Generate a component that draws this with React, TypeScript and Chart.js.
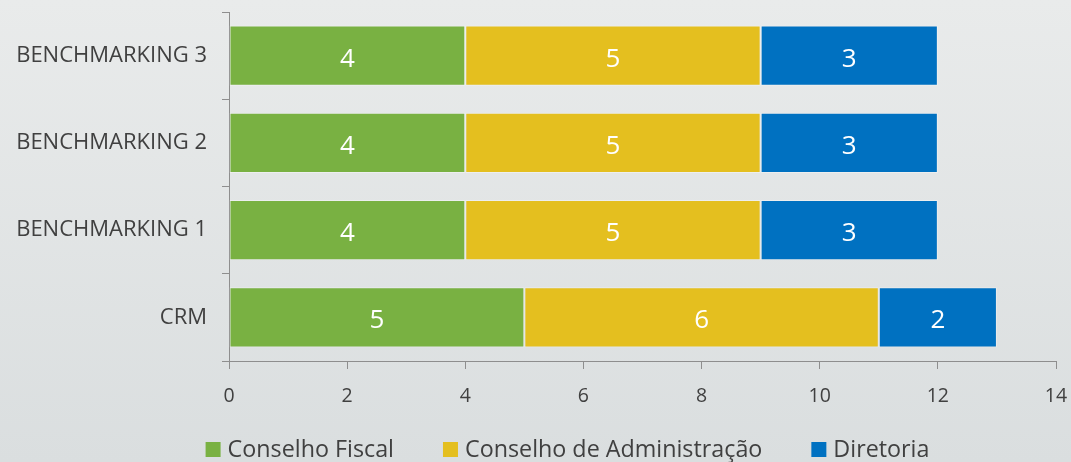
import React, { useEffect, useRef } from "react";
import { Chart, registerables } from "chart.js";

Chart.register(...registerables);

const categories = ["BENCHMARKING 3", "BENCHMARKING 2", "BENCHMARKING 1", "CRM"];
const seriesNames = ["Conselho Fiscal", "Conselho de Administração", "Diretoria"];
const conselhoFiscal = [4, 4, 4, 5];
const conselhoAdministracao = [5, 5, 5, 6];
const diretoria = [3, 3, 3, 2];
const xMin = 0;
const xMax = 14;
const xStep = 2;

const seriesColors = ["#79b142", "#e4bf1f", "#0071c1"];
const FONT = "'Open Sans', 'Noto Sans', sans-serif";
const TEXT = "#404040";
const AXIS = "#8e8e8e";

const valueLabels = {
  id: "valueLabels",
  afterDatasetsDraw(chart: any) {
    const ctx = chart.ctx;
    ctx.save();
    ctx.font = `26px ${FONT}`;
    ctx.fillStyle = "#ffffff";
    ctx.textAlign = "center";
    ctx.textBaseline = "alphabetic";
    chart.data.datasets.forEach((ds: any, i: number) => {
      const meta = chart.getDatasetMeta(i);
      meta.data.forEach((el: any, j: number) => {
        const v = ds.data[j];
        const cx = (el.x + el.base) / 2;
        ctx.fillText(String(v), cx, el.y + 11);
      });
    });
    ctx.restore();
  },
};

const customLegend = {
  id: "customLegend",
  afterDraw(chart: any) {
    const ctx = chart.ctx;
    ctx.save();
    ctx.font = `23.3px ${FONT}`;
    ctx.textBaseline = "alphabetic";
    ctx.textAlign = "left";
    const box = 15;
    const gapText = 7;
    const gapItem = 49;
    const items = chart.data.datasets.map((ds: any) => ({
      label: ds.label,
      color: ds.backgroundColor,
      w: ctx.measureText(ds.label).width,
    }));
    let total = 0;
    items.forEach((it: any, i: number) => {
      total += box + gapText + it.w + (i < items.length - 1 ? gapItem : 0);
    });
    let x = 567.5 - total / 2;
    const baseline = 457;
    items.forEach((it: any) => {
      ctx.fillStyle = it.color;
      ctx.fillRect(x, baseline - box, box, box);
      ctx.fillStyle = TEXT;
      ctx.fillText(it.label, x + box + gapText, baseline);
      x += box + gapText + it.w + gapItem;
    });
    ctx.restore();
  },
};

export default function App() {
  const ref = useRef<HTMLCanvasElement | null>(null);
  useEffect(() => {
    if (!ref.current) return;
    const seriesValues = [conselhoFiscal, conselhoAdministracao, diretoria];
    const chart = new Chart(ref.current, {
      type: "bar",
      data: {
        labels: categories,
        datasets: seriesNames.map((name, i) => ({
          label: name,
          data: seriesValues[i],
          backgroundColor: seriesColors[i],
          borderColor: "rgba(255,255,255,0.35)",
          borderWidth: 1,
          borderSkipped: false,
          barPercentage: 0.69,
          categoryPercentage: 1,
        })),
      },
      options: {
        indexAxis: "y",
        responsive: false,
        animation: false,
        layout: { padding: { top: 12, right: 15, left: 0, bottom: 0 } },
        plugins: {
          legend: { display: false },
          tooltip: { enabled: false },
        },
        scales: {
          x: {
            type: "linear",
            stacked: true,
            min: xMin,
            max: xMax,
            ticks: {
              stepSize: xStep,
              font: { family: FONT, size: 19.5 },
              color: TEXT,
              padding: 16,
            },
            grid: {
              drawOnChartArea: false,
              drawTicks: true,
              tickLength: 8,
              color: AXIS,
            },
            border: { color: AXIS, width: 1 },
            afterFit(s: any) {
              s.height = 101;
              s.paddingLeft = 0;
              s.paddingRight = 0;
            },
          },
          y: {
            type: "category",
            stacked: true,
            ticks: {
              font: { family: FONT, size: 22 },
              color: TEXT,
              padding: 15,
            },
            grid: {
              drawOnChartArea: false,
              drawTicks: true,
              tickLength: 7,
              offset: true,
              color: AXIS,
            },
            border: { color: AXIS, width: 1 },
            afterFit(s: any) {
              s.width = 229;
              s.paddingTop = 0;
              s.paddingBottom = 0;
            },
          },
        },
      } as any,
      plugins: [valueLabels, customLegend],
    });
    return () => chart.destroy();
  }, []);

  return (
    <div
      style={{
        position: "absolute",
        left: 0,
        top: 0,
        width: 1071,
        height: 462,
        background: "linear-gradient(to bottom, #e9ebeb 0%, #dadedf 100%)",
      }}
    >
      <canvas ref={ref} width={1071} height={462} style={{ display: "block" }} />
    </div>
  );
}
